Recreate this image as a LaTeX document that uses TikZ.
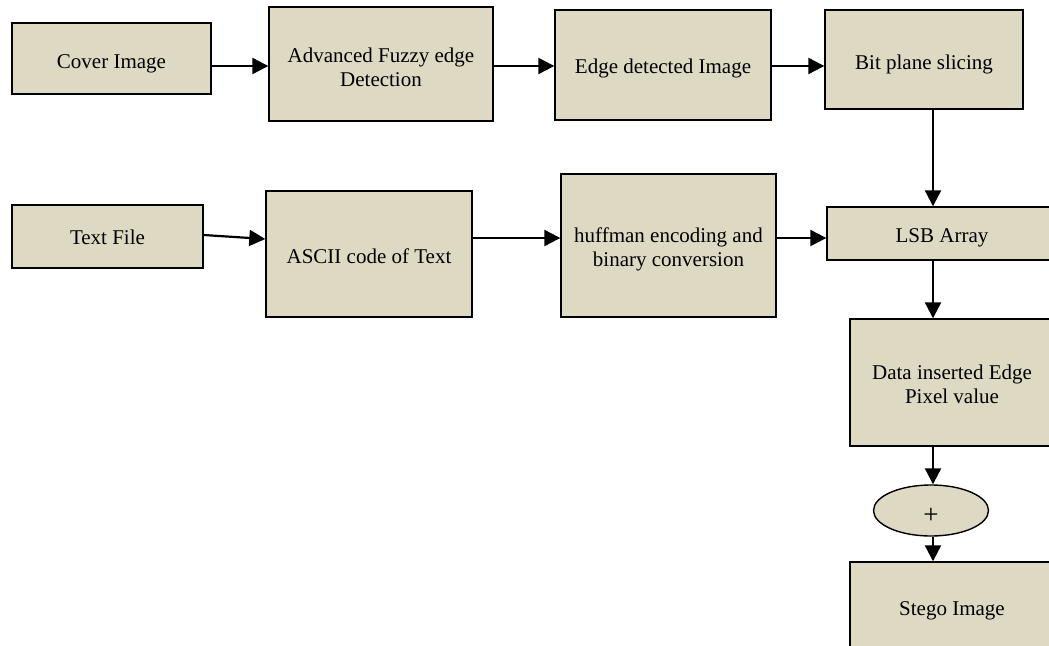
\documentclass[tikz,border=0pt]{standalone}
\usepackage{fontspec}
\setmainfont{Liberation Serif}
\usetikzlibrary{arrows.meta,shapes.geometric,calc}
\definecolor{boxfill}{HTML}{DDD9C3}
\begin{document}
\begin{tikzpicture}[x=1pt,y=-1pt,
  box/.style={draw=black, line width=1.4pt, fill=boxfill, inner sep=0pt},
  txt/.style={align=center, font=\fontsize{21}{24}\selectfont, text=black, inner sep=0pt},
  arr/.style={line width=2.2pt, -{Triangle[length=16pt,width=16pt]}}]
\useasboundingbox (0,0) rectangle (1049,645);
\clip (0,0) rectangle (1049,645);
% row 1
\node[box, minimum width=199pt, minimum height=71pt,
  label={[txt,yshift=-5pt]center:Cover Image}] (cover) at (111.5,58.5) {};
\node[box, minimum width=224pt, minimum height=114pt,
  label={[txt,yshift=-3pt]center:{Advanced Fuzzy edge\\Detection}}] (adv) at (381,64) {};
\node[box, minimum width=216pt, minimum height=110pt,
  label={[txt,yshift=-3pt]center:Edge detected Image}] (edge) at (663,65) {};
\node[box, minimum width=198pt, minimum height=99pt,
  label={[txt,yshift=-4.5pt]center:Bit plane slicing}] (bit) at (924,59.5) {};
% row 2
\node[box, minimum width=191pt, minimum height=63pt,
  label={[txt,yshift=-1pt]center:Text File}] (textfile) at (107.5,236.5) {};
\node[box, minimum width=206pt, minimum height=126pt,
  label={[txt,yshift=-2pt]center:ASCII code of Text}] (ascii) at (369,254) {};
\node[box, minimum width=215pt, minimum height=143pt,
  label={[txt,yshift=-4pt]center:{huffman encoding and\\binary conversion}}] (huff) at (668.5,245.5) {};
\node[box, minimum width=230pt, minimum height=53pt,
  label={[txt,yshift=-4pt]center:LSB Array}] (lsb) at (942,233.5) {};
% column
\node[box, minimum width=204pt, minimum height=127pt,
  label={[txt,yshift=-2pt]center:{Data inserted Edge\\Pixel value}}] (data) at (952,382.5) {};
\node[box, ellipse, minimum width=115pt, minimum height=51pt,
  label={[txt,font=\fontsize{27}{30}\selectfont,yshift=-5pt]center:+}] (plus) at (931,510.5) {};
\node[box, minimum width=204pt, minimum height=90pt,
  label={[txt,yshift=-3.5pt]center:Stego Image}] (stego) at (952,607) {};
% helper coordinates
\coordinate (r1) at (0,66);
\coordinate (r2) at (0,238);
\coordinate (t1) at (0,235);
\coordinate (t2) at (0,239);
\coordinate (c1) at (933,0);
% connectors
\draw[arr] (cover.east|-r1) -- (adv.west|-r1);
\draw[arr] (adv.east|-r1) -- (edge.west|-r1);
\draw[arr] (edge.east|-r1) -- (bit.west|-r1);
\draw[arr] (textfile.east|-t1) -- (ascii.west|-t2);
\draw[arr] (ascii.east|-r2) -- (huff.west|-r2);
\draw[arr] (huff.east|-r2) -- (lsb.west|-r2);
\draw[arr] (bit.south-|c1) -- (lsb.north-|c1);
\draw[arr] (lsb.south-|c1) -- (data.north-|c1);
\draw[arr] (data.south-|c1) -- (plus.north-|c1);
\draw[arr] (plus.south-|c1) -- (stego.north-|c1);
\end{tikzpicture}
\end{document}
